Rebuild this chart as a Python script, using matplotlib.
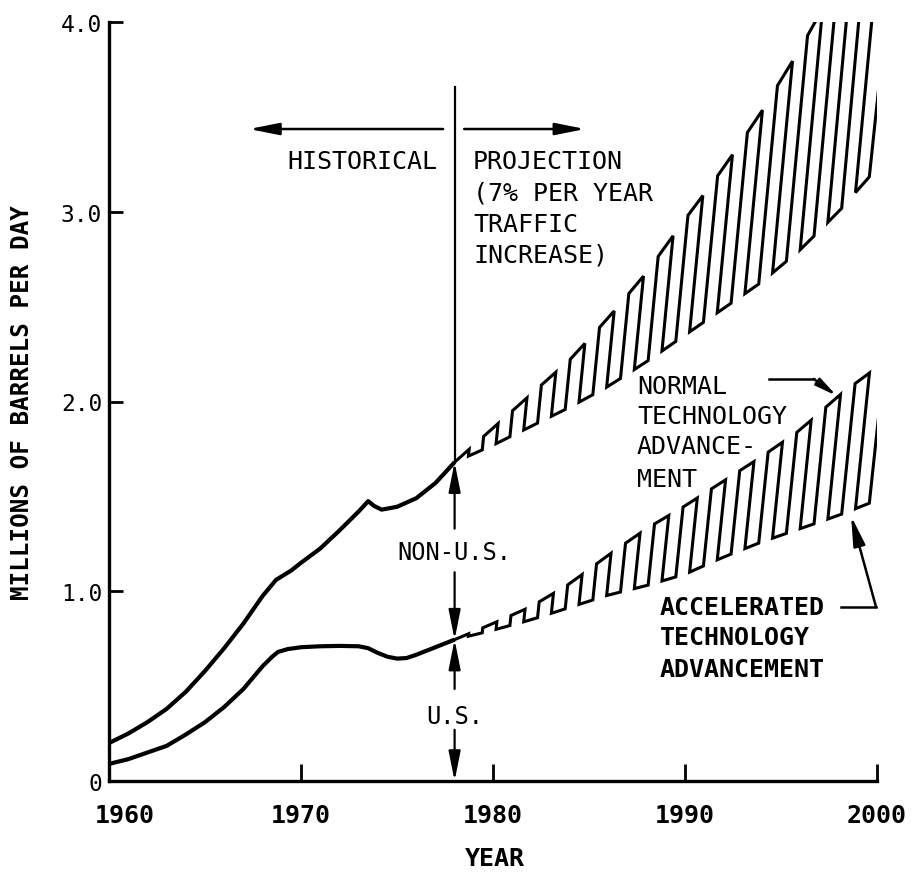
import numpy as np
import matplotlib.pyplot as plt
from matplotlib.transforms import ScaledTranslation

# historical fuel demand, millions of barrels per day
total_years = [1960, 1961, 1962, 1963, 1964, 1965, 1966, 1967, 1968, 1968.7, 1969.5,
               1970, 1971, 1972, 1973, 1973.5, 1973.8, 1974.2, 1975, 1976, 1977, 1978]
total_hist = [0.20, 0.25, 0.31, 0.38, 0.47, 0.58, 0.70, 0.83, 0.975, 1.06, 1.11,
              1.15, 1.225, 1.32, 1.42, 1.475, 1.45, 1.43, 1.445, 1.49, 1.57, 1.68]

us_years = [1960, 1961, 1962, 1963, 1964, 1965, 1966, 1967, 1968, 1968.5, 1968.8, 1969.3,
            1970, 1971, 1972, 1973, 1973.5, 1974, 1974.5, 1975, 1975.5, 1976, 1977, 1978]
us_hist = [0.09, 0.115, 0.15, 0.185, 0.245, 0.31, 0.39, 0.485, 0.605, 0.655, 0.68, 0.695,
           0.705, 0.71, 0.712, 0.71, 0.70, 0.675, 0.655, 0.645, 0.648, 0.665, 0.705, 0.745]

# projections (7% per year traffic increase)
proj_years = [1978, 1980, 1982, 1984, 1986, 1988, 1990, 1992, 1994, 1996, 1998, 2000]
total_normal = [1.68, 1.86, 2.04, 2.22, 2.44, 2.68, 2.96, 3.23, 3.53, 3.86, 4.22, 4.62]
total_accel = [1.68, 1.77, 1.87, 1.97, 2.08, 2.21, 2.35, 2.49, 2.63, 2.80, 3.00, 3.23]
us_normal = [0.745, 0.83, 0.92, 1.04, 1.19, 1.33, 1.45, 1.58, 1.71, 1.85, 2.03, 2.18]
us_accel = [0.745, 0.795, 0.85, 0.915, 0.98, 1.03, 1.09, 1.18, 1.26, 1.33, 1.40, 1.48]

x_ticks = [1960, 1970, 1980, 1990, 2000]
y_ticks = [0, 1, 2, 3, 4]
y_tick_labels = ['0', '1.0', '2.0', '3.0', '4.0']

MONO = 'DejaVu Sans Mono'


def hatch_band(ax, years, lower, upper, step=0.72, slant=1.1, lw=2.2):
    # square-wave meander between two curves, strokes leaning to the right
    xb = np.arange(years[0], years[-1] + step, step)
    yb = np.interp(xb, years, lower)
    hgt = np.interp(xb, years, upper) - yb
    xt = xb + slant * hgt
    yt = np.interp(xt, years, upper)
    xs, ys = [], []
    for i in range(len(xb)):
        if i % 2 == 0:
            xs += [xb[i], xt[i]]
            ys += [yb[i], yt[i]]
        else:
            xs += [xt[i], xb[i]]
            ys += [yt[i], yb[i]]
    ax.plot(xs, ys, color='black', lw=lw, solid_joinstyle='miter')


def arrow(ax, start, end, lw=1.6, scale=20):
    ax.annotate('', xy=end, xytext=start,
                arrowprops=dict(arrowstyle='-|>,head_length=0.9,head_width=0.18',
                                color='black', lw=lw, mutation_scale=scale,
                                shrinkA=0, shrinkB=0))


fig = plt.figure(figsize=(9.13, 8.79), dpi=100)
ax = fig.add_axes([109 / 913, 97 / 879, 768 / 913, 759 / 879])
ax.set_xlim(1960, 2000)
ax.set_ylim(0, 4)

# historical curves
ax.plot(total_years, total_hist, color='black', lw=3.0, solid_capstyle='butt')
ax.plot(us_years, us_hist, color='black', lw=3.0, solid_capstyle='butt')

# projected bands
hatch_band(ax, proj_years, total_accel, total_normal)
hatch_band(ax, proj_years, us_accel, us_normal)

# divider between history and projection
split = proj_years[0]
ax.plot([split, split], [total_hist[-1], 3.66], color='black', lw=1.6)
arrow(ax, (split, 1.33), (split, total_hist[-1]))
arrow(ax, (split, 1.10), (split, us_hist[-1]))
arrow(ax, (split, 0.485), (split, us_hist[-1]))
arrow(ax, (split, 0.27), (split, 0))
ax.text(split, 1.207, 'NON-U.S.', ha='center', va='center', family=MONO, fontsize=17)
ax.text(split, 0.343, 'U.S.', ha='center', va='center', family=MONO, fontsize=17)

arrow(ax, (1977.4, 3.436), (1967.3, 3.436), lw=1.8)
arrow(ax, (1978.5, 3.436), (1984.8, 3.436), lw=1.8)
ax.text(1977.1, 3.267, 'HISTORICAL', ha='right', va='center', family=MONO, fontsize=18)
proj_lines = ['PROJECTION', '(7% PER YEAR', 'TRAFFIC', 'INCREASE)']
for txt, v in zip(proj_lines, [3.267, 3.104, 2.935, 2.777]):
    ax.text(1978.96, v, txt, ha='left', va='center', family=MONO, fontsize=18)

# callouts
normal_lines = ['NORMAL', 'TECHNOLOGY', 'ADVANCE-', 'MENT']
for txt, v in zip(normal_lines, [2.082, 1.924, 1.765, 1.592]):
    ax.text(1987.5, v, txt, ha='left', va='center', family=MONO, fontsize=18)
ax.plot([1994.4, 1996.7], [2.119, 2.119], color='black', lw=1.8)
arrow(ax, (1996.7, 2.119), (1997.9, 2.03), lw=1.8, scale=14)

accel_lines = ['ACCELERATED', 'TECHNOLOGY', 'ADVANCEMENT']
for txt, v in zip(accel_lines, [0.917, 0.759, 0.590]):
    ax.text(1988.7, v, txt, ha='left', va='center', family=MONO, fontsize=18,
            fontweight='bold')
ax.plot([1998.1, 1999.95], [0.917, 0.917], color='black', lw=1.8, clip_on=False)
arrow(ax, (1999.95, 0.917), (1998.65, 1.397), lw=1.8)

# axes styling
for side in ['top', 'right']:
    ax.spines[side].set_visible(False)
for side in ['left', 'bottom']:
    ax.spines[side].set_linewidth(2.4)

ax.set_xticks(x_ticks)
ax.set_xticklabels([str(y) for y in x_ticks], family=MONO, fontsize=18, fontweight='bold')
ax.set_yticks(y_ticks)
ax.set_yticklabels(y_tick_labels, family=MONO, fontsize=16.5)
ax.tick_params(axis='x', direction='in', length=12, width=2, pad=16)
ax.tick_params(axis='y', direction='in', length=10, width=2, pad=5)

offset = ScaledTranslation(0.16, 0, fig.dpi_scale_trans)
first = ax.get_xticklabels()[0]
first.set_transform(first.get_transform() + offset)

ax.set_ylabel('MILLIONS OF BARRELS PER DAY', family=MONO, fontsize=17.5, fontweight='bold')
ax.yaxis.set_label_coords(-0.098, 0.5)
ax.set_xlabel('YEAR', family=MONO, fontsize=18, fontweight='bold')
ax.xaxis.set_label_coords(0.503, -0.086)

plt.savefig('out.png', dpi=100)
plt.close()
